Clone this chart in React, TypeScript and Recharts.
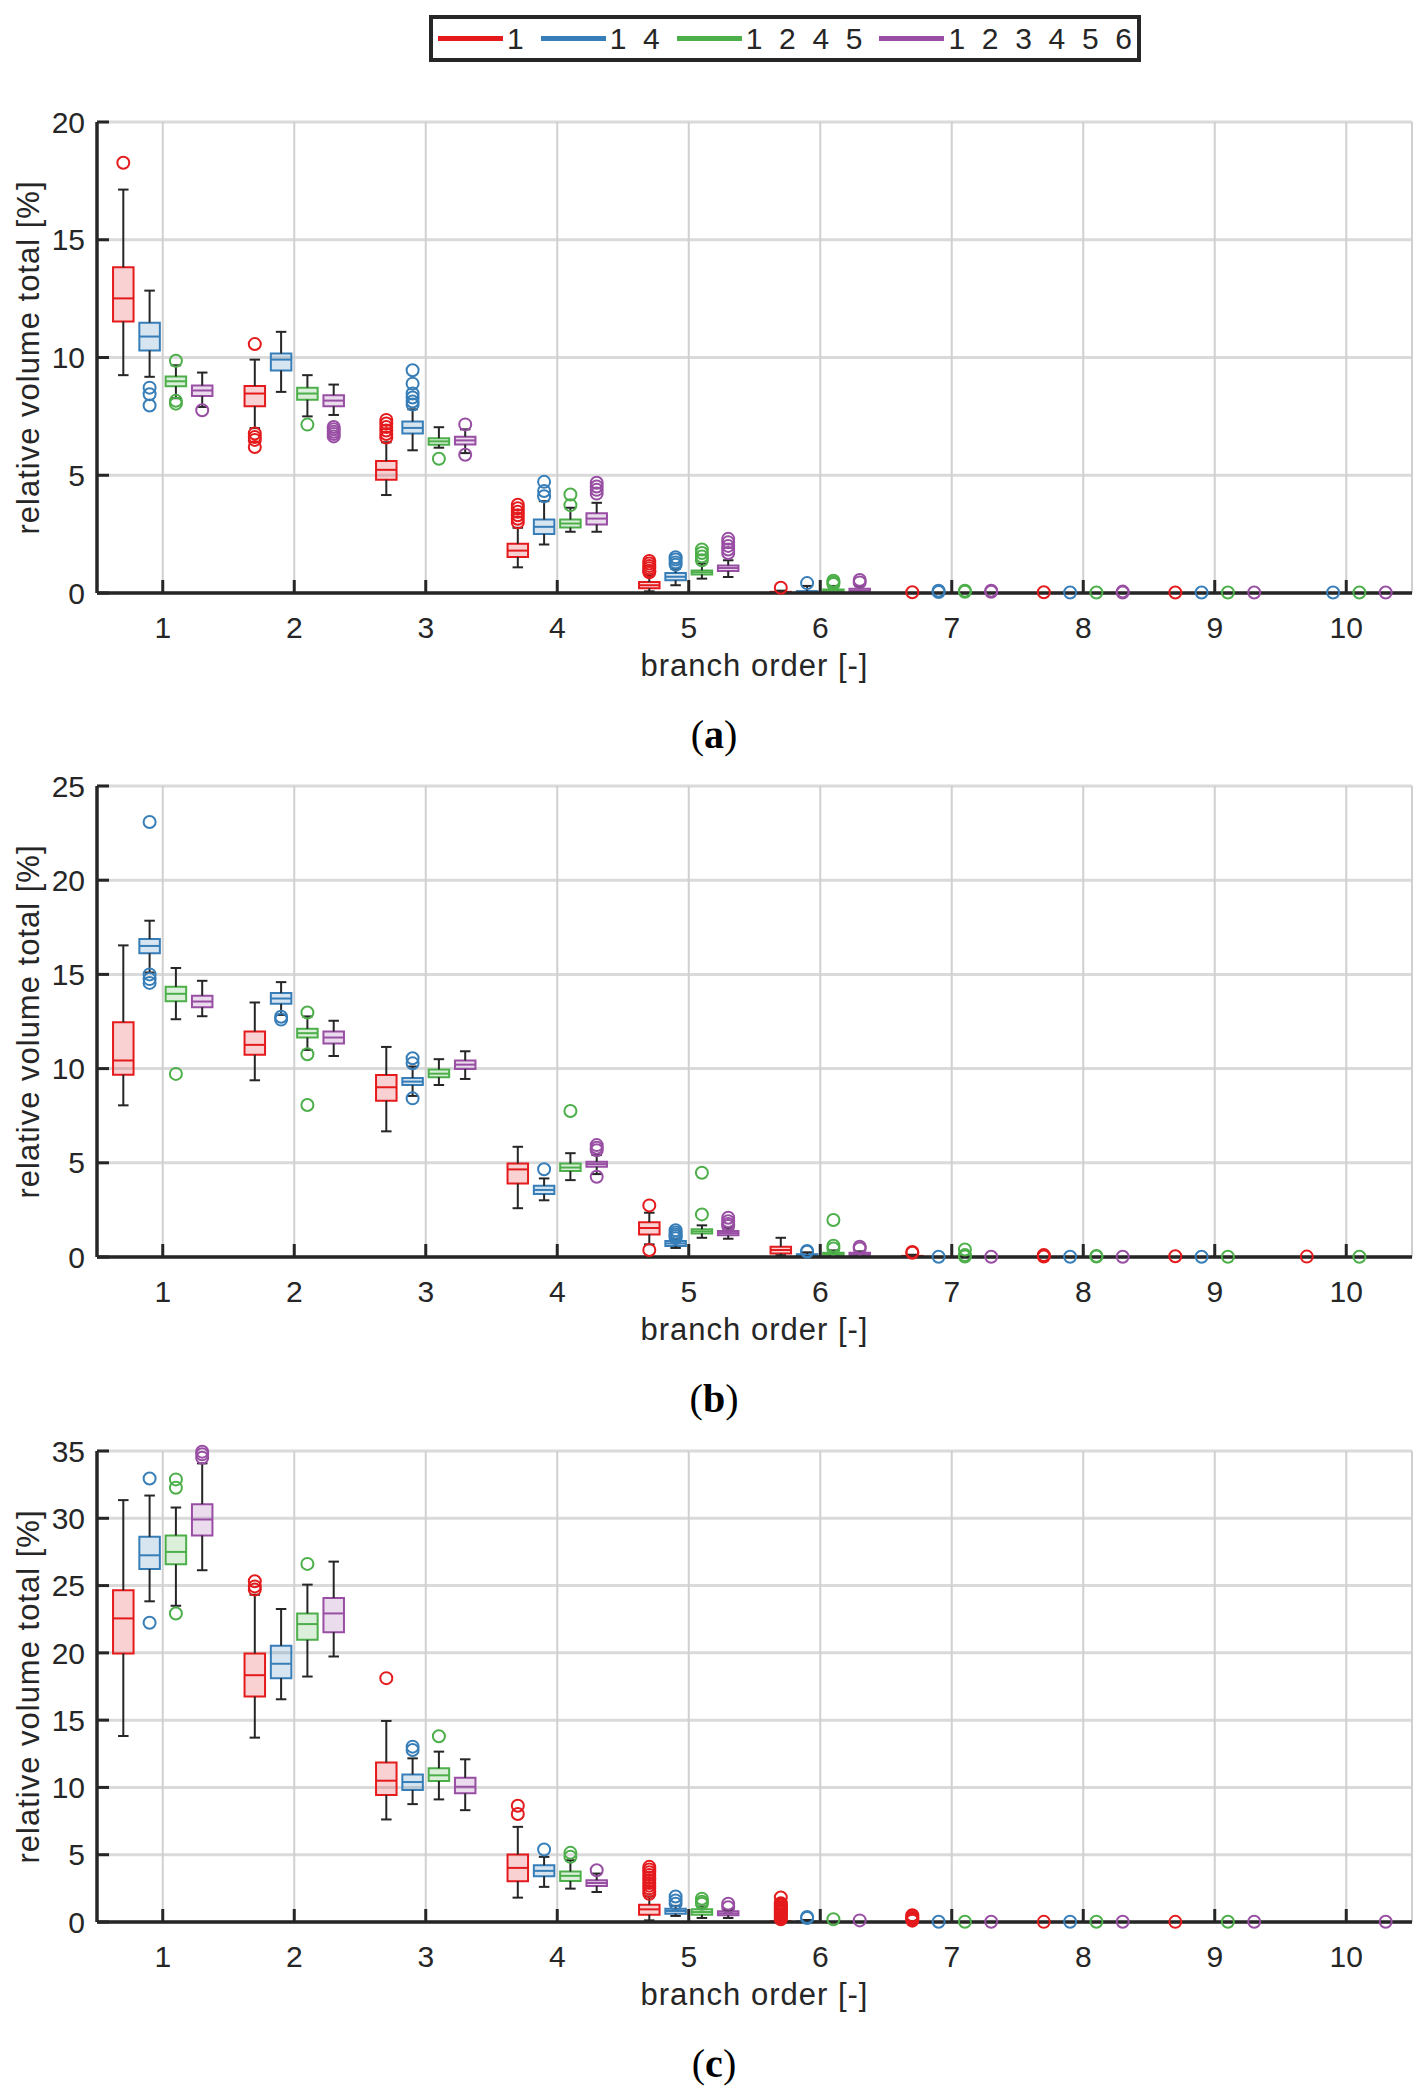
import React from "react";
import {
  CartesianGrid,
  ComposedChart,
  ReferenceArea,
  ReferenceLine,
  Scatter,
  XAxis,
  YAxis,
} from "recharts";

const FONT = "'Liberation Sans', Arial, sans-serif";
const INK = "#262626";

const categories = [1, 2, 3, 4, 5, 6, 7, 8, 9, 10];
const seriesNames = ["1", "1  4", "1  2  4  5", "1  2  3  4  5  6"];
const seriesColors = ["#e41a1c", "#377eb8", "#4daf4a", "#984ea3"];
const seriesOffsets = [-0.3, -0.1, 0.1, 0.3];

// each box: [lower whisker, q1, median, q3, upper whisker]
const Z = [0, 0, 0, 0, 0];

// panel (a)
const aBox1 = [[9.25, 11.53, 12.51, 13.83, 17.13], [7.0, 7.93, 8.47, 8.79, 9.91], [4.16, 4.81, 5.23, 5.6, 6.4], [1.09, 1.53, 1.8, 2.09, 2.77], [0.07, 0.2, 0.33, 0.47, 0.75], [0, 0.01, 0.03, 0.05, 0.1], Z, Z, Z, Z];
const aOut1 = [[18.27], [10.57, 6.77, 6.62, 6.5, 6.2], [7.35, 7.2, 7.05, 6.9, 6.75, 6.6], [3.75, 3.6, 3.45, 3.3, 3.15, 3.0], [1.36, 1.25, 1.15, 1.05, 0.95, 0.88], [0.22], [0.03], [0.03], [0.02], []];
const aBox2 = [[9.18, 10.3, 10.89, 11.48, 12.84], [8.54, 9.45, 9.91, 10.17, 11.09], [6.06, 6.77, 7.01, 7.28, 7.8], [2.06, 2.51, 2.81, 3.12, 3.9], [0.33, 0.54, 0.69, 0.85, 1.03], [0, 0.02, 0.05, 0.08, 0.3], Z, Z, Z, Z];
const aOut2 = [[8.72, 8.44, 7.96], [], [9.46, 8.89, 8.47, 8.3, 8.13, 8.0], [4.72, 4.33, 4.11], [1.52, 1.42, 1.3, 1.2], [0.42], [0.1, 0.04], [0.02], [0.02], [0.02]];
const aBox3 = [[8.27, 8.78, 8.99, 9.19, 9.67], [7.5, 8.21, 8.47, 8.72, 9.25], [6.17, 6.3, 6.44, 6.57, 7.04], [2.6, 2.78, 2.95, 3.12, 3.62], [0.61, 0.79, 0.88, 0.96, 1.25], [0, 0.05, 0.1, 0.15, 0.3], Z, Z, Z, Z];
const aOut3 = [[9.86, 8.16, 8.04], [7.15], [5.7], [4.18, 3.73], [1.85, 1.7, 1.55, 1.39], [0.52, 0.45, 0.38], [0.1, 0.05], [0.02], [0.02], [0.02]];
const aBox4 = [[7.9, 8.37, 8.6, 8.81, 9.36], [7.56, 7.93, 8.17, 8.4, 8.85], [5.94, 6.31, 6.48, 6.64, 6.95], [2.6, 2.91, 3.16, 3.39, 3.83], [0.68, 0.93, 1.06, 1.17, 1.39], [0, 0.05, 0.1, 0.18, 0.3], Z, Z, Z, Z];
const aOut4 = [[7.76], [7.05, 6.95, 6.85, 6.75, 6.65], [7.16, 5.87], [4.68, 4.52, 4.38, 4.22], [2.3, 2.15, 2.0, 1.85, 1.7], [0.55, 0.45], [0.1, 0.05], [0.06, 0.02], [0.02], [0.02]];

// panel (b)
const bBox1 = [[8.05, 9.68, 10.43, 12.46, 16.54], [9.38, 10.73, 11.26, 11.97, 13.51], [6.67, 8.3, 9.01, 9.66, 11.15], [2.59, 3.9, 4.65, 4.96, 5.85], [0.67, 1.2, 1.54, 1.85, 2.35], [0.09, 0.19, 0.37, 0.55, 1.02], [0, 0.02, 0.04, 0.06, 0.12], Z, Z, Z];
const bOut1 = [[], [], [], [], [2.74, 0.37], [], [0.27, 0.22], [0.1, 0.06, 0.03], [0.04], [0.02]];
const bBox2 = [[15.1, 16.12, 16.51, 16.88, 17.85], [12.85, 13.44, 13.72, 14.01, 14.59], [8.55, 9.13, 9.31, 9.5, 10.11], [3.01, 3.35, 3.56, 3.78, 4.17], [0.48, 0.58, 0.72, 0.85, 0.95], [0, 0.05, 0.1, 0.15, 0.25], Z, Z, Z, Z];
const bOut2 = [[23.09, 15.0, 14.75, 14.55], [12.75, 12.6], [10.55, 10.28, 8.42], [4.66], [1.42, 1.3, 1.2, 1.1, 1.0], [0.32, 0.28], [0.01], [0.01], [0.01], []];
const bBox3 = [[12.62, 13.58, 13.97, 14.34, 15.34], [10.99, 11.65, 11.88, 12.11, 12.77], [9.13, 9.54, 9.73, 9.95, 10.5], [4.08, 4.56, 4.75, 4.96, 5.51], [1.02, 1.25, 1.36, 1.47, 1.68], [0.02, 0.09, 0.15, 0.23, 0.35], Z, Z, Z, Z];
const bOut3 = [[9.72], [12.98, 10.76, 8.07], [], [7.75], [4.47, 2.26], [1.96, 0.6, 0.45], [0.4, 0.1, 0.02], [0.05, 0.02], [0.01], [0.01]];
const bBox4 = [[12.78, 13.26, 13.56, 13.87, 14.66], [10.67, 11.33, 11.65, 11.97, 12.54], [9.45, 9.98, 10.21, 10.43, 10.92], [4.4, 4.79, 4.93, 5.05, 5.41], [0.97, 1.15, 1.27, 1.38, 1.55], [0.03, 0.09, 0.15, 0.23, 0.3], Z, Z, Z, Z];
const bOut4 = [[], [], [], [5.94, 5.8, 5.67, 4.26], [2.08, 1.9, 1.75, 1.64], [0.55, 0.45], [0.01], [0.01], [], []];

// panel (c)
const cBox1 = [[13.82, 19.96, 22.56, 24.65, 31.35], [13.7, 16.75, 18.34, 19.96, 24.32], [7.62, 9.43, 10.5, 11.86, 14.94], [1.81, 3.03, 4.02, 5.01, 7.07], [0.12, 0.54, 0.94, 1.29, 1.9], [0, 0, 0.02, 0.05, 0.12], Z, Z, Z, Z];
const cOut1 = [[], [25.32, 24.94, 24.7], [18.12], [8.64, 8.02], [4.1, 3.9, 3.7, 3.5, 3.3, 3.1, 2.9, 2.7, 2.5, 2.3, 2.1], [1.82, 1.4, 1.3, 1.2, 1.1, 1.0, 0.9, 0.8, 0.7, 0.6, 0.5, 0.4, 0.3, 0.2], [0.5, 0.4, 0.3, 0.2, 0.1], [0.01], [0.01], []];
const cBox2 = [[23.83, 26.23, 27.25, 28.62, 31.69], [16.55, 18.12, 19.19, 20.53, 23.26], [8.76, 9.8, 10.4, 10.97, 12.16], [2.61, 3.4, 3.8, 4.22, 4.84], [0.45, 0.62, 0.82, 0.99, 1.2], [0, 0, 0.02, 0.05, 0.15], Z, Z, Z, Z];
const cOut2 = [[32.96, 22.24], [], [13.03, 12.78], [5.39], [1.9, 1.6, 1.36], [0.37, 0.3], [0.02], [0.02], [], []];
const cBox3 = [[23.5, 26.58, 27.5, 28.72, 30.8], [18.24, 20.97, 22.14, 22.93, 25.07], [9.11, 10.47, 10.9, 11.42, 12.66], [2.48, 3.05, 3.43, 3.75, 4.59], [0.3, 0.54, 0.74, 0.94, 1.15], Z, Z, Z, Z, Z];
const cOut3 = [[32.89, 32.27, 22.93], [26.61], [13.8], [5.14, 4.84], [1.73, 1.5, 1.36], [0.2], [0.02], [0.02], [0.02], []];
const cBox4 = [[26.14, 28.72, 29.91, 31.05, 34.08], [19.73, 21.54, 22.93, 24.08, 26.78], [8.31, 9.56, 10.05, 10.72, 12.09], [2.23, 2.68, 2.9, 3.1, 3.6], [0.3, 0.5, 0.64, 0.79, 0.9], Z, Z, Z, Z, Z];
const cOut4 = [[34.95, 34.75, 34.5], [], [], [3.85], [1.36, 1.1], [0.12], [0.02], [0.02], [0.02], [0.02]];

const aTicks = [0, 5, 10, 15, 20];
const bTicks = [0, 5, 10, 15, 20, 25];
const cTicks = [0, 5, 10, 15, 20, 25, 30, 35];

const BOX_HALF = 0.078;
const CAP_HALF = 0.04;

interface PanelProps {
  boxes: number[][][];
  outliers: number[][][];
  ticks: number[];
}

function BoxPanel({ boxes, outliers, ticks }: PanelProps) {
  const whiskers: React.ReactNode[] = [];
  const areas: React.ReactNode[] = [];
  const medians: React.ReactNode[] = [];

  boxes.forEach((series, s) => {
    const color = seriesColors[s];
    series.forEach(([lo, q1, med, q3, hi], i) => {
      const x = categories[i] + seriesOffsets[s];
      const k = `${s}-${i}`;
      if (hi > q3) {
        whiskers.push(
          <ReferenceLine key={`wu${k}`} segment={[{ x, y: q3 }, { x, y: hi }]} stroke={INK} strokeWidth={2} />,
          <ReferenceLine key={`cu${k}`} segment={[{ x: x - CAP_HALF, y: hi }, { x: x + CAP_HALF, y: hi }]} stroke={INK} strokeWidth={2} />
        );
      }
      if (lo < q1) {
        whiskers.push(
          <ReferenceLine key={`wl${k}`} segment={[{ x, y: lo }, { x, y: q1 }]} stroke={INK} strokeWidth={2} />,
          <ReferenceLine key={`cl${k}`} segment={[{ x: x - CAP_HALF, y: lo }, { x: x + CAP_HALF, y: lo }]} stroke={INK} strokeWidth={2} />
        );
      }
      if (q3 > q1) {
        areas.push(
          <ReferenceArea
            key={`b${k}`}
            x1={x - BOX_HALF}
            x2={x + BOX_HALF}
            y1={q1}
            y2={q3}
            fill={color}
            fillOpacity={0.2}
            stroke={color}
            strokeWidth={2}
          />
        );
      }
      medians.push(
        <ReferenceLine key={`m${k}`} segment={[{ x: x - BOX_HALF, y: med }, { x: x + BOX_HALF, y: med }]} stroke={color} strokeWidth={2} />
      );
    });
  });

  return (
    <ComposedChart width={1428} height={693} margin={{ top: 122, right: 16, bottom: 0, left: 0 }}>
      <CartesianGrid vertical={false} stroke="#dadada" strokeWidth={3} />
      <CartesianGrid horizontal={false} stroke="#d0d0d0" strokeWidth={2} />
      <XAxis
        type="number"
        dataKey="x"
        domain={[0.5, 10.5]}
        ticks={categories}
        interval={0}
        height={100}
        axisLine={{ stroke: INK, strokeWidth: 3.5 }}
        tickLine={{ stroke: INK, strokeWidth: 3 }}
        tickSize={-13}
        tickMargin={37}
        tick={{ fill: INK, fontSize: 30, fontFamily: FONT }}
        label={{ value: "branch order [-]", position: "insideBottom", offset: 17, fill: INK, fontSize: 31, fontFamily: FONT, letterSpacing: 1 }}
      />
      <YAxis
        type="number"
        dataKey="y"
        domain={[0, ticks[ticks.length - 1]]}
        ticks={ticks}
        interval={0}
        width={97}
        axisLine={{ stroke: INK, strokeWidth: 3.5 }}
        tickLine={{ stroke: INK, strokeWidth: 3 }}
        tickSize={-12}
        tickMargin={24}
        tick={{ fill: INK, fontSize: 30, fontFamily: FONT }}
        label={{
          value: "relative volume total [%]",
          angle: -90,
          position: "insideLeft",
          offset: 28,
          fill: INK,
          fontSize: 31,
          fontFamily: FONT,
          letterSpacing: 1,
          style: { textAnchor: "middle" },
        }}
      />
      {whiskers}
      {areas}
      {medians}
      {outliers.map((series, s) => (
        <Scatter
          key={`o${s}`}
          data={series.flatMap((vals, i) => vals.map((y) => ({ x: categories[i] + seriesOffsets[s], y })))}
          dataKey="y"
          isAnimationActive={false}
          shape={(p: any) => <circle cx={p.cx} cy={p.cy} r={6} fill="none" stroke={seriesColors[s]} strokeWidth={2} />}
        />
      ))}
    </ComposedChart>
  );
}

function TopLegend() {
  return (
    <div
      style={{
        position: "absolute",
        left: 429,
        top: 15,
        width: 712,
        height: 47,
        boxSizing: "border-box",
        border: `4px solid ${INK}`,
        display: "flex",
        alignItems: "center",
        paddingLeft: 5,
        fontFamily: FONT,
        fontSize: 30,
        color: INK,
        whiteSpace: "pre",
        background: "#fff",
      }}
    >
      {seriesNames.map((name, i) => (
        <div key={name} style={{ display: "flex", alignItems: "center", marginRight: 17 }}>
          <span style={{ width: 65, height: 5, background: seriesColors[i], marginRight: 4 }} />
          <span style={{ lineHeight: "30px" }}>{name}</span>
        </div>
      ))}
    </div>
  );
}

function PanelTag({ letter, top }: { letter: string; top: number }) {
  return (
    <div
      style={{
        position: "absolute",
        left: 0,
        width: 1428,
        top: top - 24,
        height: 48,
        lineHeight: "48px",
        textAlign: "center",
        fontFamily: "'Liberation Serif', 'Times New Roman', serif",
        fontSize: 40,
        color: "#000",
      }}
    >
      (<b>{letter}</b>)
    </div>
  );
}

export default function App() {
  return (
    <div style={{ position: "absolute", left: 0, top: 0, width: 1428, height: 2100, background: "#fff" }}>
      <div style={{ position: "absolute", left: 0, top: 0 }}>
        <BoxPanel boxes={[aBox1, aBox2, aBox3, aBox4]} outliers={[aOut1, aOut2, aOut3, aOut4]} ticks={aTicks} />
      </div>
      <div style={{ position: "absolute", left: 0, top: 664 }}>
        <BoxPanel boxes={[bBox1, bBox2, bBox3, bBox4]} outliers={[bOut1, bOut2, bOut3, bOut4]} ticks={bTicks} />
      </div>
      <div style={{ position: "absolute", left: 0, top: 1329 }}>
        <BoxPanel boxes={[cBox1, cBox2, cBox3, cBox4]} outliers={[cOut1, cOut2, cOut3, cOut4]} ticks={cTicks} />
      </div>
      <TopLegend />
      <PanelTag letter="a" top={735} />
      <PanelTag letter="b" top={1399} />
      <PanelTag letter="c" top={2064} />
    </div>
  );
}
